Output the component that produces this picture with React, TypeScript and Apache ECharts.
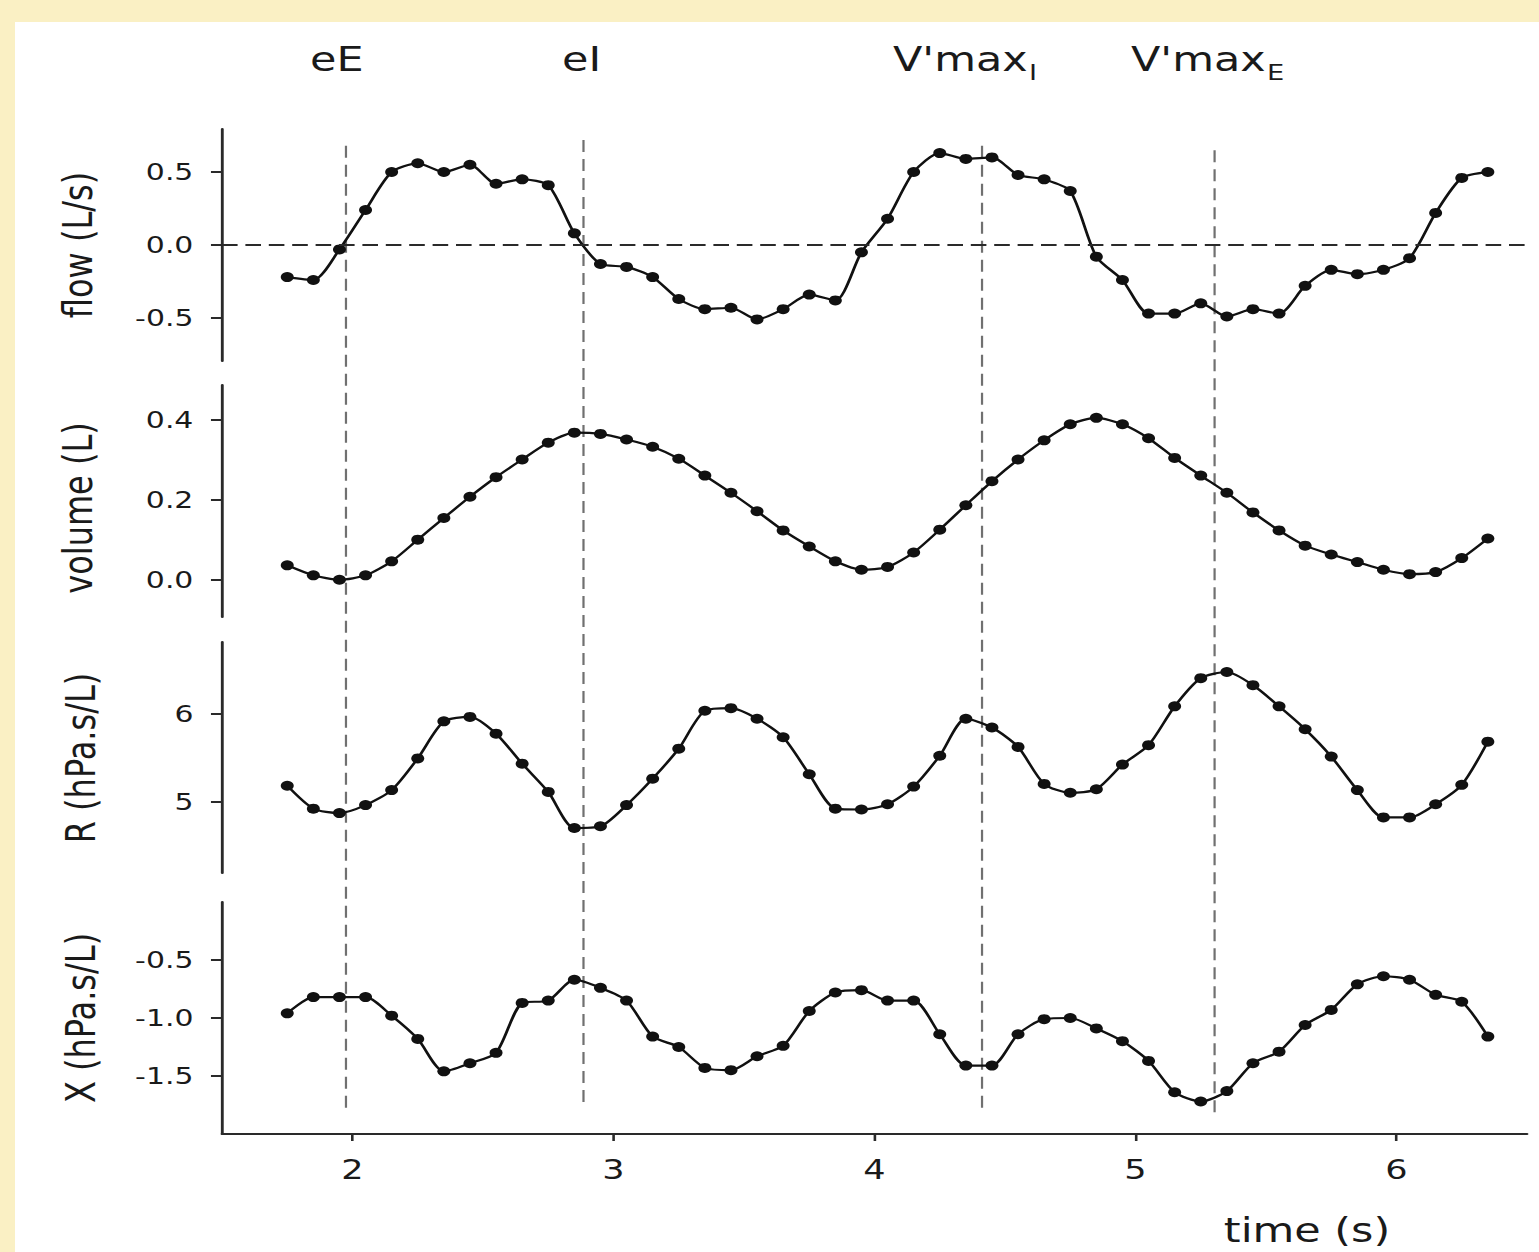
import React, { useEffect, useRef } from "react";
import * as echarts from "echarts";

// ---- data ----
const time = [
  1.75, 1.85, 1.95, 2.05, 2.15, 2.25, 2.35, 2.45, 2.55, 2.65, 2.75, 2.85,
  2.95, 3.05, 3.15, 3.25, 3.35, 3.45, 3.55, 3.65, 3.75, 3.85, 3.95, 4.05,
  4.15, 4.25, 4.35, 4.45, 4.55, 4.65, 4.75, 4.85, 4.95, 5.05, 5.15, 5.25,
  5.35, 5.45, 5.55, 5.65, 5.75, 5.85, 5.95, 6.05, 6.15, 6.25, 6.35,
];
const flow = [
  -0.22, -0.24, -0.03, 0.24, 0.5, 0.56, 0.5, 0.55, 0.42, 0.45, 0.41, 0.08,
  -0.13, -0.15, -0.22, -0.37, -0.44, -0.43, -0.51, -0.44, -0.34, -0.38, -0.05, 0.18,
  0.5, 0.63, 0.59, 0.6, 0.48, 0.45, 0.37, -0.08, -0.24, -0.47, -0.47, -0.4,
  -0.49, -0.44, -0.47, -0.28, -0.17, -0.2, -0.17, -0.09, 0.22, 0.46, 0.5,
];
const volume = [
  0.036, 0.011, 0.0, 0.011, 0.046, 0.1, 0.154, 0.207, 0.256, 0.3, 0.342, 0.367,
  0.364, 0.35, 0.332, 0.302, 0.26, 0.217, 0.171, 0.123, 0.083, 0.046, 0.025, 0.032,
  0.068, 0.125, 0.186, 0.246, 0.3, 0.348, 0.388, 0.404, 0.388, 0.353, 0.304, 0.26,
  0.217, 0.168, 0.123, 0.085, 0.063, 0.044, 0.025, 0.014, 0.019, 0.054, 0.103,
];
const resistance = [
  5.18, 4.92, 4.87, 4.96, 5.13, 5.49, 5.91, 5.96, 5.77, 5.43, 5.11, 4.7,
  4.72, 4.96, 5.26, 5.6, 6.03, 6.06, 5.94, 5.73, 5.31, 4.92, 4.91, 4.97,
  5.17, 5.52, 5.94, 5.84, 5.62, 5.2, 5.1, 5.14, 5.42, 5.64, 6.08, 6.4,
  6.47, 6.32, 6.08, 5.82, 5.51, 5.13, 4.82, 4.82, 4.97, 5.19, 5.68,
];
const reactance = [
  -0.96, -0.82, -0.82, -0.82, -0.98, -1.18, -1.46, -1.39, -1.3, -0.87, -0.85, -0.67,
  -0.74, -0.85, -1.16, -1.25, -1.43, -1.45, -1.33, -1.24, -0.94, -0.78, -0.76, -0.85,
  -0.85, -1.14, -1.41, -1.41, -1.14, -1.01, -1.0, -1.09, -1.2, -1.37, -1.64, -1.72,
  -1.63, -1.39, -1.29, -1.06, -0.93, -0.71, -0.64, -0.67, -0.8, -0.86, -1.16,
];

const timeTicks = [2, 3, 4, 5, 6];
const flowTicks = [-0.5, 0, 0.5];
const volumeTicks = [0, 0.2, 0.4];
const rTicks = [5, 6];
const xTicks = [-1.5, -1.0, -0.5];

// event markers (time in s) and their vertical extent (flow value at top, X value at bottom)
const eventNames = ["eE", "eI", "V'max", "V'max"];
const eventSubs = ["", "", "I", "E"];
const eventTimes = [1.975, 2.885, 4.412, 5.303];
const eventTopFlow = [0.68, 0.72, 0.68, 0.65];
const eventBottomX = [-1.78, -1.74, -1.78, -1.82];

// ---- layout ----
const S = 1.3; // horizontal stretch of the reference picture
const W = 1539;
const H = 1252;
const BEIGE = "#faf0c4";
const FONT = '"DejaVu Sans", Verdana, sans-serif';
const INK = "#1a1a1a";

export default function App() {
  const ref = useRef<HTMLDivElement>(null);

  useEffect(() => {
    const el = ref.current!;
    const chart = echarts.init(el, undefined, { renderer: "svg" });
    const u = (x: number) => x / S;

    const panels = [
      { top: 129, bottom: 361, min: -0.795, max: 0.795, ticks: flowTicks, dec: 1, values: flow, name: "flow (L/s)", nameX: 78, nameY: 245 },
      { top: 385, bottom: 617, min: -0.093, max: 0.486, ticks: volumeTicks, dec: 1, values: volume, name: "volume (L)", nameX: 78, nameY: 508 },
      { top: 642, bottom: 873, min: 4.19, max: 6.81, ticks: rTicks, dec: 0, values: resistance, name: "R (hPa.s/L)", nameX: 81, nameY: 758 },
      { top: 902, bottom: 1134, min: -2.0, max: 0.0, ticks: xTicks, dec: 1, values: reactance, name: "X (hPa.s/L)", nameX: 81, nameY: 1018 },
    ];

    const grid = panels.map((p) => ({
      left: u(222),
      width: u(1527 - 222),
      top: p.top,
      height: p.bottom - p.top,
      containLabel: false,
    }));

    const xAxis = panels.map((p, i) => ({
      type: "value",
      gridIndex: i,
      min: 1.5,
      max: 6.5,
      show: i === 3,
      splitLine: { show: false },
      axisLine: { show: true, onZero: false, lineStyle: { color: "#2a2a2a", width: 2.2 } },
      axisTick: { show: true, length: 7, lineStyle: { color: "#2a2a2a", width: 2 }, customValues: timeTicks },
      axisLabel: {
        show: true,
        customValues: timeTicks,
        fontSize: 27,
        fontFamily: FONT,
        color: INK,
        margin: 22,
      },
    }));

    const yAxis = panels.map((p, i) => ({
      type: "value",
      gridIndex: i,
      min: p.min,
      max: p.max,
      splitLine: { show: false },
      axisLine: { show: true, onZero: false, lineStyle: { color: "#2a2a2a", width: 2.2 } },
      axisTick: { show: true, length: 8.5, lineStyle: { color: "#2a2a2a", width: 2 }, customValues: p.ticks },
      axisLabel: {
        show: true,
        customValues: p.ticks,
        formatter: (v: number) => v.toFixed(p.dec),
        fontSize: 23,
        fontFamily: FONT,
        color: INK,
        margin: 22,
      },
    }));

    const series = panels.map((p, i) => ({
      type: "line",
      xAxisIndex: i,
      yAxisIndex: i,
      data: time.map((t, k) => [t, p.values[k]]),
      symbol: "circle",
      symbolSize: 10,
      showSymbol: true,
      smooth: 0.25,
      lineStyle: { color: "#111", width: 2.2 },
      itemStyle: { color: "#111" },
      z: 3,
      markLine:
        i === 0
          ? {
              silent: true,
              symbol: ["none", "none"],
              label: { show: false },
              lineStyle: { color: "#2a2a2a", width: 2, type: [12, 6] },
              data: [{ yAxis: 0 }],
            }
          : undefined,
    }));

    chart.setOption({
      animation: false,
      backgroundColor: "transparent",
      grid,
      xAxis,
      yAxis,
      series,
    });

    const graphics: any[] = [];

    // vertical dashed event lines
    eventTimes.forEach((t, k) => {
      const x = chart.convertToPixel({ xAxisIndex: 0 }, t) as number;
      const y1 = chart.convertToPixel({ yAxisIndex: 0 }, eventTopFlow[k]) as number;
      const y2 = chart.convertToPixel({ yAxisIndex: 3 }, eventBottomX[k]) as number;
      graphics.push({
        type: "line",
        z: 1,
        silent: true,
        shape: { x1: x, y1, x2: x, y2 },
        style: { stroke: "#707070", lineWidth: 1.7, lineDash: [12, 7] },
      });
    });

    // event labels at the top
    const labelLeft = [310, 562, 893, 1131];
    const subLeft = [0, 0, 1029, 1267];
    eventNames.forEach((name, k) => {
      graphics.push({
        type: "text",
        x: u(labelLeft[k]),
        y: 59,
        style: {
          text: name,
          font: `33px ${FONT}`,
          fill: INK,
          align: "left",
          verticalAlign: "middle",
          textAlign: "left",
          textVerticalAlign: "middle",
        },
      });
      if (eventSubs[k]) {
        graphics.push({
          type: "text",
          x: u(subLeft[k]),
          y: 73,
          style: {
            text: eventSubs[k],
            font: `21px ${FONT}`,
            fill: INK,
            align: "left",
            verticalAlign: "middle",
            textAlign: "left",
            textVerticalAlign: "middle",
          },
        });
      }
    });

    // y-axis titles (rotated)
    panels.forEach((p) => {
      graphics.push({
        type: "text",
        x: u(p.nameX),
        y: p.nameY,
        rotation: Math.PI / 2,
        style: {
          text: p.name,
          font: `32px ${FONT}`,
          fill: INK,
          align: "center",
          verticalAlign: "middle",
          textAlign: "center",
          textVerticalAlign: "middle",
        },
      });
    });

    // x-axis title
    graphics.push({
      type: "text",
      x: u(1307),
      y: 1230,
      style: {
        text: "time (s)",
        font: `33px ${FONT}`,
        fill: INK,
        align: "center",
        verticalAlign: "middle",
        textAlign: "center",
        textVerticalAlign: "middle",
      },
    });

    chart.setOption({ graphic: graphics });

    return () => {
      chart.dispose();
    };
  }, []);

  return (
    <div
      style={{
        position: "absolute",
        left: 0,
        top: 0,
        width: W,
        height: H,
        background: BEIGE,
        overflow: "hidden",
      }}
    >
      <div
        style={{
          position: "absolute",
          left: 15,
          top: 22,
          width: W - 15,
          height: H - 22,
          background: "#ffffff",
        }}
      />
      <div
        ref={ref}
        style={{
          position: "absolute",
          left: 0,
          top: 0,
          width: W / S,
          height: H,
          transform: `scaleX(${S})`,
          transformOrigin: "0 0",
        }}
      />
    </div>
  );
}
